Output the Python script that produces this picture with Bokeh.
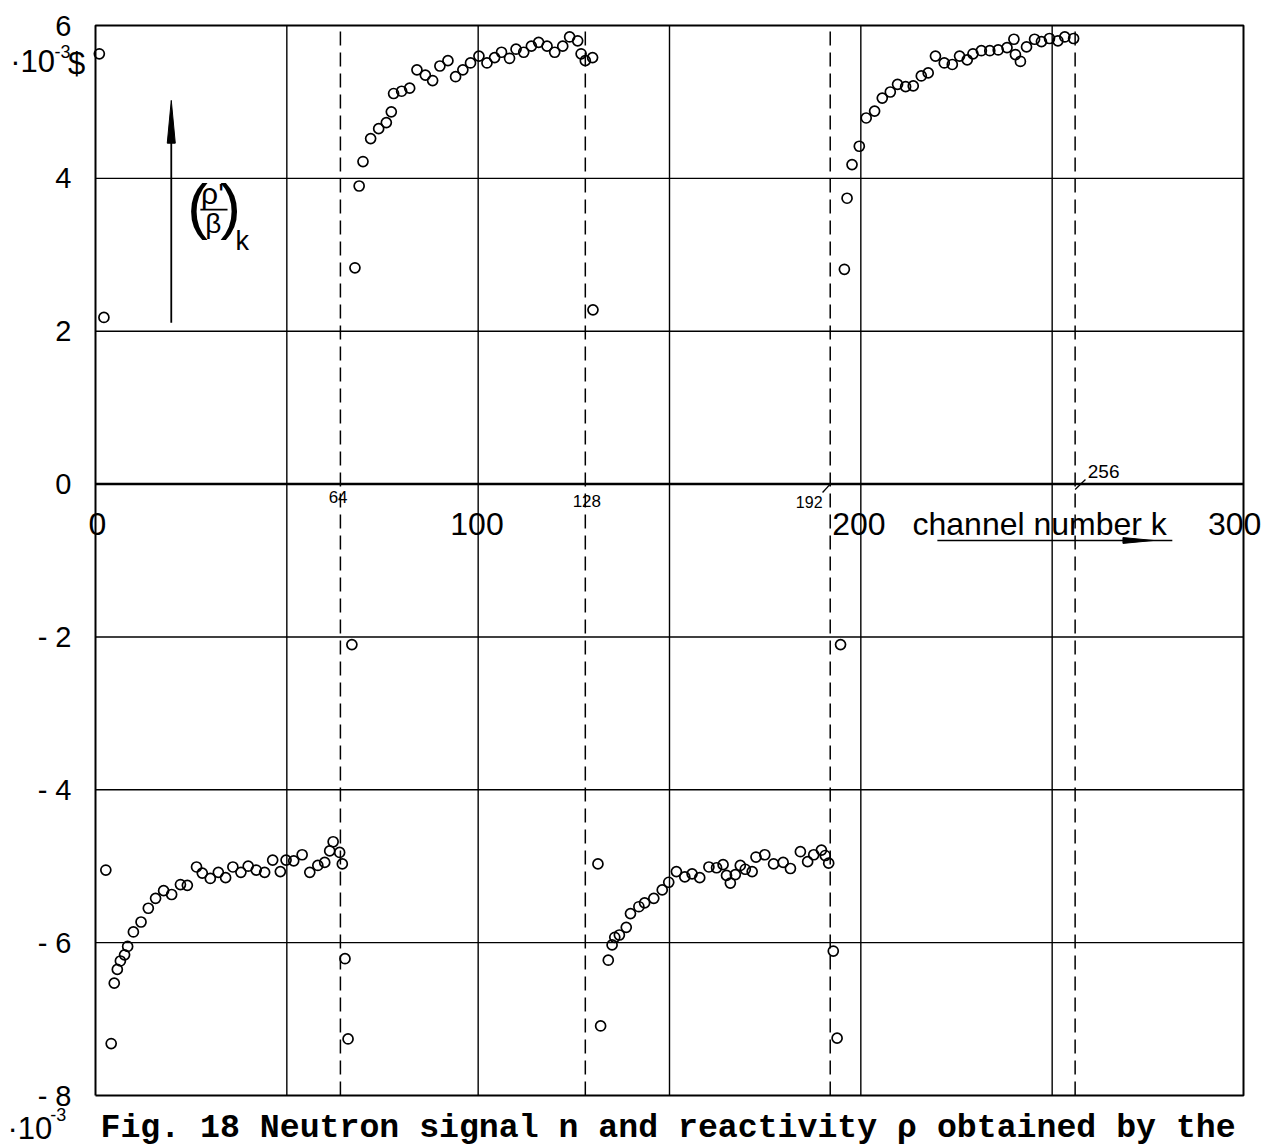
from bokeh.plotting import figure
from bokeh.models import Range1d
from bokeh.core.properties import value
from bokeh.embed import file_html
from bokeh.resources import INLINE

# Reactivity (rho'/beta)_k in units of 1e-3 $, read per channel number k
pos_channel = [1.0, 2.2,
               67.8, 68.9, 69.9, 71.9, 74.0, 76.0, 77.3, 77.9, 80.0, 82.1, 84.0, 86.2,
               88.1, 90.0, 92.1, 94.1, 96.0, 98.0, 100.2, 102.3, 104.3, 106.1, 108.2,
               109.9, 111.9, 113.9, 115.8, 118.0, 120.0, 122.1, 123.9, 126.0, 126.9,
               128.0, 129.9, 130.0,
               195.7, 196.4, 197.7, 199.6, 201.4, 203.6, 205.6, 207.7, 209.6, 211.7,
               213.7, 215.8, 217.6, 219.5, 221.8, 223.9, 225.8, 227.8, 229.3, 231.5,
               233.7, 235.9, 238.2, 240.0, 240.4, 241.7, 243.3, 245.4, 247.2, 249.3,
               251.5, 253.3, 255.6]
pos_rho = [5.63, 2.18,
           2.83, 3.90, 4.22, 4.52, 4.65, 4.73, 4.87, 5.11, 5.14, 5.18, 5.42, 5.35,
           5.28, 5.47, 5.54, 5.33, 5.42, 5.51, 5.60, 5.51, 5.58, 5.65, 5.57,
           5.69, 5.65, 5.73, 5.78, 5.73, 5.65, 5.73, 5.85, 5.80, 5.63,
           5.54, 5.58, 2.28,
           2.81, 3.74, 4.18, 4.42, 4.79, 4.88, 5.05, 5.13, 5.23, 5.20,
           5.21, 5.34, 5.38, 5.60, 5.51, 5.49, 5.60, 5.55, 5.63, 5.67,
           5.67, 5.68, 5.71, 5.82, 5.62, 5.53, 5.72, 5.82, 5.79, 5.83,
           5.80, 5.85, 5.83]

neg_channel = [2.7, 4.1, 4.9, 5.7, 6.5, 7.6, 8.4, 9.9, 11.9, 13.8, 15.7, 17.8, 19.9,
               22.2, 24.0, 26.4, 27.9, 30.0, 32.1, 34.0, 35.9, 38.0, 39.9, 42.0, 44.2,
               46.3, 48.3, 49.8, 51.8, 54.0, 56.0, 58.1, 59.9, 61.2, 62.1, 63.8, 64.5,
               65.2, 66.0, 67.0,
               131.3, 132.0, 134.0, 135.0, 135.7, 136.9, 138.7, 139.8, 142.0, 143.5,
               145.9, 148.1, 149.8, 151.8, 154.0, 155.9, 157.9, 160.3, 162.3, 164.0,
               164.9, 165.9, 167.2, 168.5, 169.8, 171.6, 172.6, 174.9, 177.2, 179.7,
               181.6, 184.2, 186.1, 187.7, 189.7, 190.7, 191.6, 192.8, 193.8, 194.7]
neg_rho = [-5.05, -7.32, -6.53, -6.35, -6.24, -6.16, -6.05, -5.86, -5.73, -5.55, -5.42,
           -5.32, -5.37, -5.24, -5.25, -5.01, -5.09, -5.16, -5.08, -5.15, -5.01, -5.08,
           -5.00, -5.05, -5.08, -4.92, -5.07, -4.92, -4.93, -4.85, -5.08, -4.99, -4.95,
           -4.80, -4.68, -4.82, -4.97, -6.21, -7.26, -2.10,
           -4.97, -7.09, -6.23, -6.03, -5.93, -5.90, -5.80, -5.62, -5.53, -5.48,
           -5.42, -5.31, -5.21, -5.07, -5.14, -5.10, -5.15, -5.01, -5.02, -4.98,
           -5.12, -5.22, -5.11, -4.99, -5.04, -5.07, -4.88, -4.85, -4.97, -4.95,
           -5.03, -4.81, -4.94, -4.85, -4.79, -4.86, -4.96, -6.11, -7.25, -2.10]

x_tick_values = [0, 100, 200, 300]
x_tick_labels = ["0", "100", "200", "300"]
x_grid_values = [50, 100, 150, 200, 250]
y_tick_values = [-8, -6, -4, -2, 0, 2, 4, 6]
y_tick_labels = ["- 8", "- 6", "- 4", "- 2", "0", "2", "4", "6"]
period_marks = [64, 128, 192, 256]
period_labels = ["64", "128", "192", "256"]

X_MIN, X_MAX = 0, 300
Y_MIN, Y_MAX = -8, 6

# canvas and margins around the plotting box (pixels)
W, H = 1281, 1146
M_LEFT, M_RIGHT, M_TOP, M_BOTTOM = 95, 38, 25, 51
sx = (W - M_LEFT - M_RIGHT) / (X_MAX - X_MIN)   # px per channel
sy = (H - M_TOP - M_BOTTOM) / (Y_MAX - Y_MIN)   # px per 1e-3 $

SANS = "Liberation Sans"
MONO = "Liberation Mono"

p = figure(width=W, height=H,
           x_range=Range1d(X_MIN - M_LEFT / sx, X_MAX + M_RIGHT / sx),
           y_range=Range1d(Y_MIN - M_BOTTOM / sy, Y_MAX + M_TOP / sy),
           output_backend="svg", toolbar_location=None, title_location=None,
           x_axis_location=None, y_axis_location=None, min_border=0)
p.outline_line_color = None
p.background_fill_color = "white"
p.border_fill_color = "white"
p.xgrid.visible = False
p.ygrid.visible = False

# grid
p.segment(x0=x_grid_values, y0=[Y_MIN] * len(x_grid_values),
          x1=x_grid_values, y1=[Y_MAX] * len(x_grid_values),
          line_color="black", line_width=1.4)
inner_y = [v for v in y_tick_values if Y_MIN < v < Y_MAX and v != 0]
p.segment(x0=[X_MIN] * len(inner_y), y0=inner_y, x1=[X_MAX] * len(inner_y), y1=inner_y,
          line_color="black", line_width=1.4)
# box
p.line([X_MIN, X_MAX, X_MAX, X_MIN, X_MIN], [Y_MIN, Y_MIN, Y_MAX, Y_MAX, Y_MIN],
       line_color="black", line_width=2)
# abscissa through zero
p.line([X_MIN, X_MAX], [0, 0], line_color="black", line_width=2.6)

# period boundaries
p.segment(x0=period_marks, y0=[Y_MIN] * 4, x1=period_marks, y1=[Y_MAX] * 4,
          line_color="black", line_width=1.5, line_dash="14 7")

p.scatter(pos_channel, pos_rho, marker="circle", size=10, fill_alpha=0,
          line_color="black", line_width=1.7)
p.scatter(neg_channel, neg_rho, marker="circle", size=10, fill_alpha=0,
          line_color="black", line_width=1.7)


def txt(xs, ys, texts, size, align="left", font=SANS, **kw):
    p.text(x=xs, y=ys, text=texts, text_font=value(font),
           text_font_size=value(size), text_align=align,
           text_baseline="middle", text_color="black", **kw)


# ordinate labels
txt([X_MIN] * len(y_tick_values), y_tick_values, y_tick_labels, "29px",
    align="right", x_offset=-24)

# channel labels below the abscissa
x_label_shift = [0.5, -0.3, -0.5, -2.3]
txt([v + d for v, d in zip(x_tick_values, x_label_shift)], [-0.522] * 4,
    x_tick_labels, "32px", align="center")
txt([213.5], [-0.522], ["channel number k"], "32px")
# underline arrow
p.line([220.0, 281.4], [-0.738, -0.738], line_color="black", line_width=1.5)
p.patch([268.5, 276.5, 268.5], [-0.700, -0.738, -0.776], fill_color="black",
        line_color="black", line_width=1)

# period boundary labels
txt([period_marks[0] - 0.6, period_marks[1] + 0.4], [-0.17, -0.22],
    period_labels[:2], "17px", align="center")
txt([period_marks[2] - 2.0], [-0.24], [period_labels[2]], "16px", align="right")
txt([period_marks[3] + 3.3], [0.16], [period_labels[3]], "19px")
p.segment(x0=[period_marks[2] - 2.0, period_marks[3]], y0=[-0.11, -0.07],
          x1=[period_marks[2], period_marks[3] + 2.7], y1=[0.0, 0.06],
          line_color="black", line_width=1.3)

# unit of the ordinate
txt([-22.3], [5.533], ["\u00b710"], "31px")
txt([-10.7], [5.654], ["-3"], "18px")
txt([-7.2], [5.507], ["$"], "31px")
txt([-23.0], [-8.431], ["\u00b710"], "31px")
txt([-11.8], [-8.250], ["-3"], "18px")

# ordinate quantity with arrow
AX, AY0, AY1 = 19.8, 2.11, 5.02
p.line([AX, AX], [AY0, AY1 - 0.3], line_color="black", line_width=1.8)
p.patch([AX - 1.05, AX, AX + 1.05], [AY1 - 0.56, AY1, AY1 - 0.56],
        fill_color="black", line_color="black", line_width=1)
txt([26.65, 35.28], [3.65, 3.65], ["(", ")"], "62px", align="center")
txt([30.57], [3.807], ["\u03c1'"], "30px", align="center")
p.line([27.4, 34.5], [3.59, 3.59], line_color="black", line_width=1.8)
txt([30.8], [3.415], ["\u03b2"], "28px", align="center")
txt([36.6], [3.18], ["k"], "27px")

# caption
txt([1.3], [-8.43], ["Fig. 18 Neutron signal n and reactivity \u03c1 obtained by the"],
    "33.2px", font=MONO, text_font_style="bold")

open("out.html", "w").write(file_html(p, INLINE))
